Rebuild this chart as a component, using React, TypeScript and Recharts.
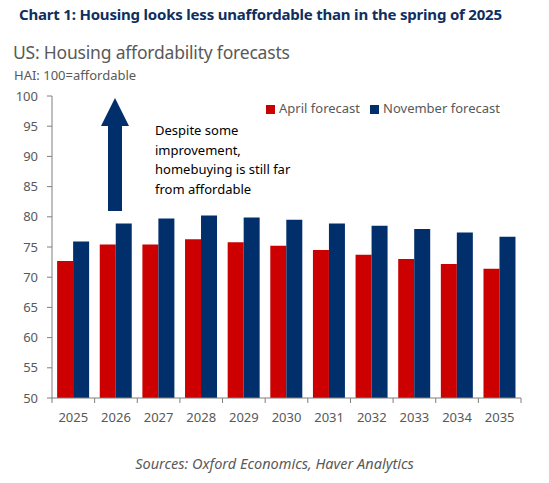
import React from 'react';
import { BarChart, Bar, XAxis, YAxis, Legend } from 'recharts';

const years = ['2025', '2026', '2027', '2028', '2029', '2030', '2031', '2032', '2033', '2034', '2035'];
const aprilForecast = [72.7, 75.4, 75.4, 76.3, 75.8, 75.2, 74.5, 73.7, 73.0, 72.2, 71.4];
const novemberForecast = [75.9, 78.9, 79.7, 80.2, 79.9, 79.5, 78.9, 78.5, 78.0, 77.4, 76.7];
const yTicks = [50, 55, 60, 65, 70, 75, 80, 85, 90, 95, 100];

const rows = years.map((year, i) => ({
  year,
  april: aprilForecast[i],
  november: novemberForecast[i],
}));

const FONT = '"Noto Sans", "Open Sans", sans-serif';
const GREY = '#595959';
const RED = '#CC0000';
const NAVY = '#002F6C';
const TITLE = '#0F2F5F';

// Category tick: label at the band centre, tick mark at the band's left edge
const YearTick = (props: any) => {
  const { x, y, payload, index } = props;
  const half = payload.offset ?? 0;
  const last = index === years.length - 1;
  return (
    <g>
      <line x1={x - half} x2={x - half} y1={y - 8} y2={y - 3} stroke="#7F7F7F" />
      {last && <line x1={x + half} x2={x + half} y1={y - 8} y2={y - 3} stroke="#7F7F7F" />}
      <text x={x} y={y + 16} textAnchor="middle" fill={GREY} fontSize={13} fontFamily={FONT}>
        {payload.value}
      </text>
    </g>
  );
};

export default function App() {
  return (
    <div style={{ position: 'absolute', left: 0, top: 0, width: 549, height: 483, background: '#fff', fontFamily: FONT }}>
      <div style={{ position: 'absolute', left: 19, top: 4, fontSize: 15, letterSpacing: -0.2, fontWeight: 700, color: TITLE, whiteSpace: 'nowrap' }}>
        Chart 1: Housing looks less unaffordable than in the spring of 2025
      </div>
      <div style={{ position: 'absolute', left: 13, top: 40, fontSize: 17.5, letterSpacing: -0.2, color: GREY, whiteSpace: 'nowrap' }}>
        US: Housing affordability forecasts
      </div>
      <div style={{ position: 'absolute', left: 14, top: 66, fontSize: 13, color: GREY, whiteSpace: 'nowrap' }}>
        HAI: 100=affordable
      </div>

      <BarChart
        width={549}
        height={483}
        data={rows}
        margin={{ top: 96, right: 28, bottom: 55, left: 0 }}
        barCategoryGap="12%"
        barGap={0}
      >
        <XAxis
          dataKey="year"
          axisLine={{ stroke: '#7F7F7F' }}
          tickLine={false}
          tick={<YearTick />}
          interval={0}
          height={30}
        />
        <YAxis
          domain={[50, 100]}
          ticks={yTicks}
          interval={0}
          width={52}
          axisLine={{ stroke: '#7F7F7F' }}
          tickLine={{ stroke: '#7F7F7F' }}
          tickSize={5}
          tickMargin={9}
          tick={{ fill: GREY, fontSize: 13, fontFamily: FONT }}
          allowDataOverflow
        />
        <Legend
          verticalAlign="middle"
          align="center"
          layout="horizontal"
          iconType="square"
          iconSize={9}
          wrapperStyle={{ position: 'absolute', top: 98, left: 248, width: 280, fontSize: 13, fontFamily: FONT, lineHeight: '20px', textAlign: 'left' }}
          formatter={(value: string) => <span style={{ color: GREY }}>{value}</span>}
        />
        <Bar dataKey="april" name="April forecast" fill={RED} isAnimationActive={false} />
        <Bar dataKey="november" name="November forecast" fill={NAVY} isAnimationActive={false} />
      </BarChart>

      {/* Upward arrow: "towards affordable" */}
      <svg style={{ position: 'absolute', left: 0, top: 0 }} width={549} height={483} pointerEvents="none">
        <polygon points="108,211 122,211 122,126 129,126 115,98 101,126 108,126" fill={NAVY} />
      </svg>

      <div style={{ position: 'absolute', left: 155, top: 121, fontSize: 13, lineHeight: '19.5px', color: '#000' }}>
        Despite some
        <br />
        improvement,
        <br />
        homebuying is still far
        <br />
        from affordable
      </div>

      <div style={{ position: 'absolute', left: 0, width: 549, top: 453, textAlign: 'center', fontSize: 14.5, fontStyle: 'italic', color: GREY }}>
        Sources: Oxford Economics, Haver Analytics
      </div>
    </div>
  );
}
